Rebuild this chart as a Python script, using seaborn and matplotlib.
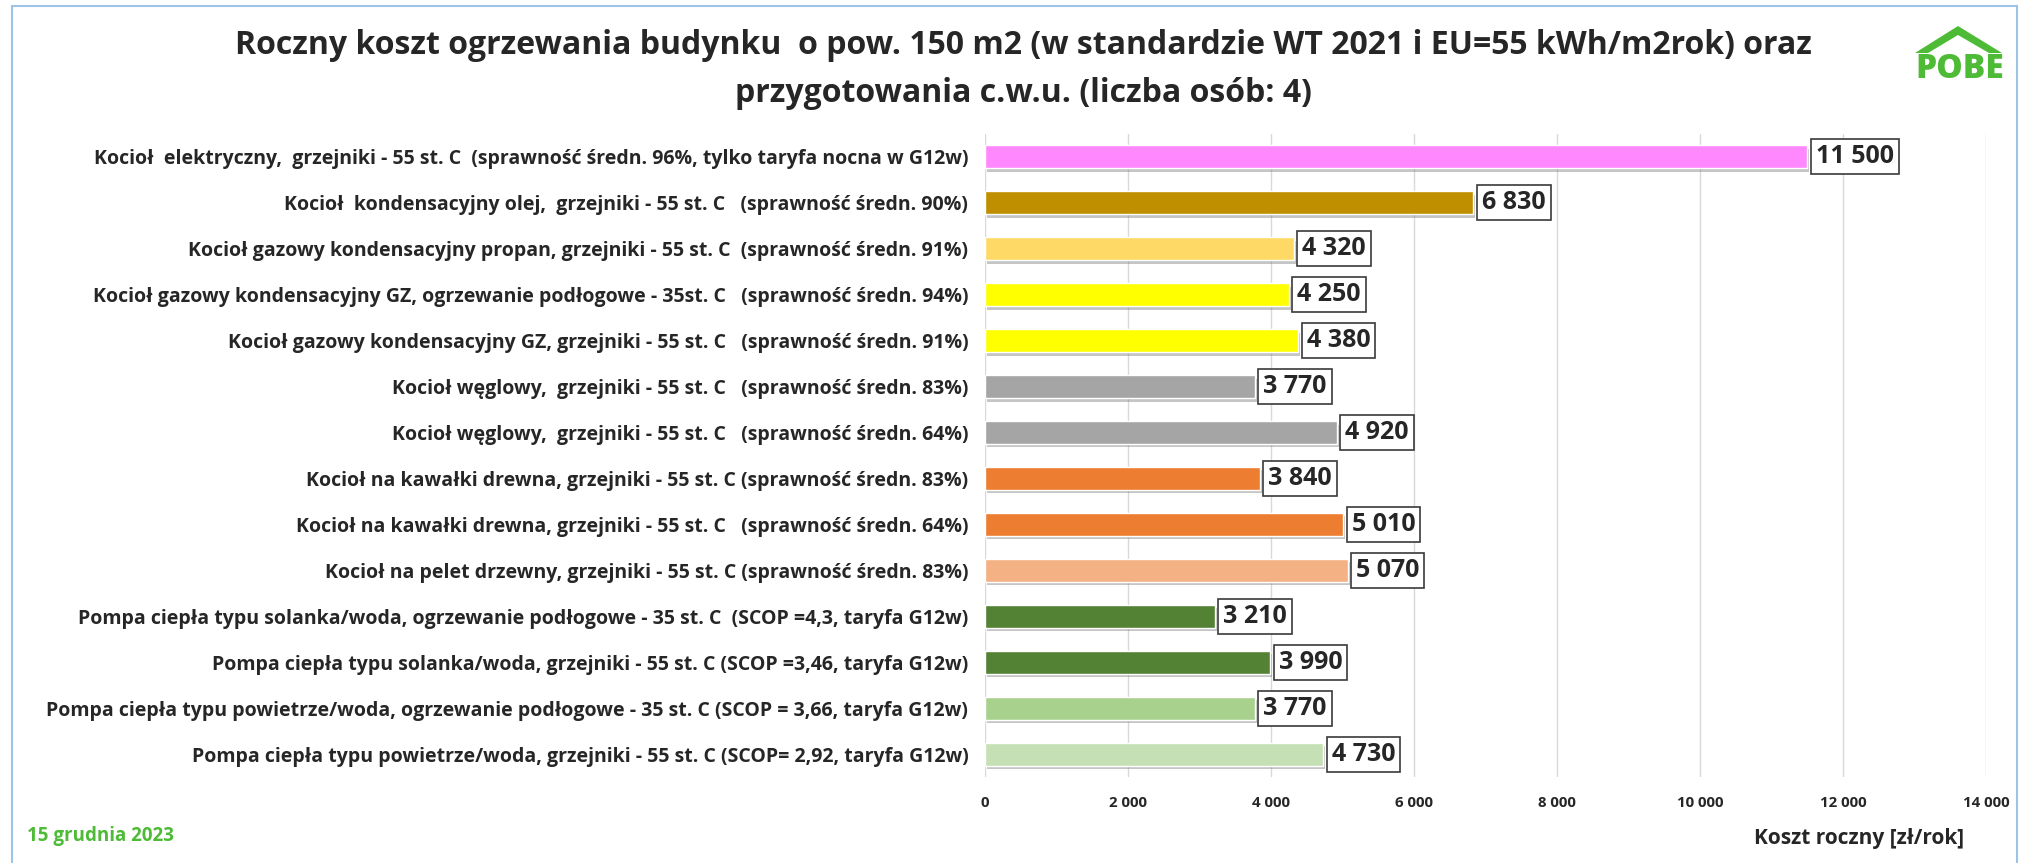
import numpy as np
import pandas as pd
import seaborn as sns
import matplotlib.pyplot as plt
import matplotlib.patheffects as pe
from matplotlib.patches import Rectangle, Polygon
from matplotlib.ticker import FuncFormatter


# ---------------------------- data ----------------------------------
labels = [
    "Kocioł  elektryczny,  grzejniki - 55 st. C  (sprawność średn. 96%, tylko taryfa nocna w G12w)",
    "Kocioł  kondensacyjny olej,  grzejniki - 55 st. C   (sprawność średn. 90%)",
    "Kocioł gazowy kondensacyjny propan, grzejniki - 55 st. C  (sprawność średn. 91%)",
    "Kocioł gazowy kondensacyjny GZ, ogrzewanie podłogowe - 35st. C   (sprawność średn. 94%)",
    "Kocioł gazowy kondensacyjny GZ, grzejniki - 55 st. C   (sprawność średn. 91%)",
    "Kocioł węglowy,  grzejniki - 55 st. C   (sprawność średn. 83%)",
    "Kocioł węglowy,  grzejniki - 55 st. C   (sprawność średn. 64%)",
    "Kocioł na kawałki drewna, grzejniki - 55 st. C (sprawność średn. 83%)",
    "Kocioł na kawałki drewna, grzejniki - 55 st. C   (sprawność średn. 64%)",
    "Kocioł na pelet drzewny, grzejniki - 55 st. C (sprawność średn. 83%)",
    "Pompa ciepła typu solanka/woda, ogrzewanie podłogowe - 35 st. C  (SCOP =4,3, taryfa G12w)",
    "Pompa ciepła typu solanka/woda, grzejniki - 55 st. C (SCOP =3,46, taryfa G12w)",
    "Pompa ciepła typu powietrze/woda, ogrzewanie podłogowe - 35 st. C (SCOP = 3,66, taryfa G12w)",
    "Pompa ciepła typu powietrze/woda, grzejniki - 55 st. C (SCOP= 2,92, taryfa G12w)",
]
costs = [11500, 6830, 4320, 4250, 4380, 3770, 4920, 3840, 5010, 5070, 3210, 3990, 3770, 4730]
bar_colors = ["#FF88FF", "#BF8F00", "#FFD966", "#FFFF00", "#FFFF00", "#A5A5A5", "#A5A5A5",
              "#ED7D31", "#ED7D31", "#F4B183", "#548235", "#548235", "#A9D18E", "#C5E0B4"]
x_ticks = [0, 2000, 4000, 6000, 8000, 10000, 12000, 14000]

title_lines = ["Roczny koszt ogrzewania budynku  o pow. 150 m2 (w standardzie WT 2021 i EU=55 kWh/m2rok) oraz",
               "przygotowania c.w.u. (liczba osób: 4)"]
x_label = "Koszt roczny [zł/rok]"
date_text = "15 grudnia 2023"

green = "#4DBB35"


def fmt(v):
    return f"{int(v):,}".replace(",", " ")


# ---------------------------- plot ----------------------------------
sns.set_style("white")
plt.rcParams['font.family'] = ['Open Sans', 'DejaVu Sans']

df = pd.DataFrame({"label": labels, "cost": costs})

W, H = 2025, 863
fig = plt.figure(figsize=(W / 100, H / 100), dpi=100)
ax = fig.add_axes([985 / W, 1 - 777 / H, 1001 / W, 643 / H])

sns.barplot(data=df, x="cost", y="label", hue="label", palette=bar_colors,
            legend=False, width=0.5, saturation=1, orient="h", ax=ax)

# soft drop shadow under the bars
for p in ax.patches:
    p.set_path_effects([pe.SimplePatchShadow(offset=(1.5, -2.5), shadow_rgbFace="#808080", alpha=0.45),
                        pe.Normal()])

# value boxes
for i, v in enumerate(costs):
    ax.text(v + 120, i, fmt(v), ha="left", va="center", fontsize=18, fontweight="bold",
            bbox=dict(boxstyle="square,pad=0.2", fc="white", ec="#3A3A3A", lw=1.2))

ax.set_xlim(0, 14000)
ax.set_xticks(x_ticks)
ax.xaxis.set_major_formatter(FuncFormatter(lambda v, pos: fmt(v)))
ax.xaxis.grid(True, color="#D9D9D9", lw=1)
ax.set_axisbelow(True)
sns.despine(ax=ax, left=True, bottom=True)
ax.tick_params(axis="y", length=0, pad=12, labelsize=14)
ax.tick_params(axis="x", length=0, pad=14, labelsize=10.8)
for t in ax.get_yticklabels() + ax.get_xticklabels():
    t.set_fontweight("bold")
ax.set_ylabel("")
ax.set_xlabel("")

# title, axis label, date
fig.text(1023 / W, 1 - 45 / H, title_lines[0], ha="center", va="center", fontsize=23, fontweight="bold")
fig.text(1023 / W, 1 - 93 / H, title_lines[1], ha="center", va="center", fontsize=23, fontweight="bold")
fig.text(1964 / W, 1 - 838 / H, x_label, ha="right", va="center", fontsize=15, fontweight="bold")
fig.text(27 / W, 1 - 836 / H, date_text, ha="left", va="center", fontsize=13.5, fontweight="bold", color=green)

# frame around the chart
fig.patches.append(Rectangle((12 / W, -0.01), (2017 - 12) / W, 1 - 6 / H + 0.01,
                             transform=fig.transFigure, fill=False, ec="#9DC3E6", lw=1.5))

# POBE logo
roof = [(1915, 53), (1958, 26), (2002, 53), (1989, 53), (1958, 35), (1928, 53)]
fig.patches.append(Polygon([(x / W, 1 - y / H) for x, y in roof], closed=True,
                           transform=fig.transFigure, fc=green, ec="none"))
fig.text(1960 / W, 1 - 69 / H, "POBE", ha="center", va="center", fontsize=24, fontweight="heavy",
         color=green)

fig.savefig("out.png", dpi=100)
